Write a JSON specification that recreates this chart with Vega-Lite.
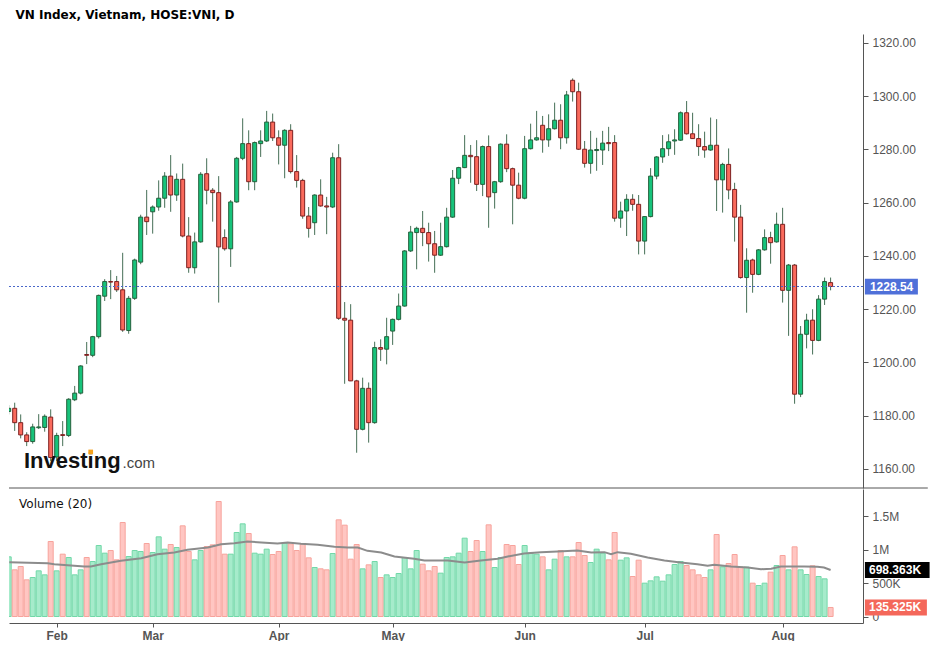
{
  "$schema": "https://vega.github.io/schema/vega-lite/v6.json",
  "background": "white",
  "padding": {"left": 8, "top": 9, "right": 0, "bottom": 0},
  "spacing": 0,
  "config": {
    "view": {"stroke": null},
    "font": "Liberation Sans",
    "scale": {"continuousPadding": 0},
    "axis": {"grid": false, "domainColor": "#555", "tickColor": "#555", "labelColor": "#555", "labelFont": "Liberation Sans", "labelFontSize": 12, "title": null}
  },
  "title": {"text": "VN Index, Vietnam, HOSE:VNI, D", "anchor": "start", "font": "DejaVu Sans", "fontSize": 12, "fontWeight": "bold", "color": "#000", "dx": 7, "offset": 12},
  "datasets": {
    "ohlc": [
      {"k": -8, "o": 1181.6, "h": 1184.0, "l": 1180.5, "c": 1182.8, "v": 895000},
      {"k": -7, "o": 1182.8, "h": 1184.9, "l": 1174.3, "c": 1177.4, "v": 700000},
      {"k": -6, "o": 1177.4, "h": 1180.5, "l": 1171.5, "c": 1172.8, "v": 750000},
      {"k": -5, "o": 1172.8, "h": 1173.8, "l": 1168.6, "c": 1170.3, "v": 550000},
      {"k": -4, "o": 1170.3, "h": 1177.0, "l": 1169.5, "c": 1175.8, "v": 585000},
      {"k": -3, "o": 1175.5, "h": 1180.6, "l": 1175.0, "c": 1175.8, "v": 685000},
      {"k": -2, "o": 1175.6, "h": 1180.5, "l": 1174.0, "c": 1179.8, "v": 625000},
      {"k": -1, "o": 1179.5, "h": 1182.4, "l": 1163.0, "c": 1164.3, "v": 1125000},
      {"k": 0, "o": 1164.5, "h": 1173.6, "l": 1163.0, "c": 1172.6, "v": 685000},
      {"k": 1, "o": 1172.9, "h": 1178.0, "l": 1168.6, "c": 1172.6, "v": 935000},
      {"k": 2, "o": 1172.6, "h": 1186.6, "l": 1172.0, "c": 1186.2, "v": 885000},
      {"k": 3, "o": 1186.0, "h": 1191.2, "l": 1185.5, "c": 1188.5, "v": 625000},
      {"k": 4, "o": 1188.5, "h": 1199.0, "l": 1188.0, "c": 1198.7, "v": 700000},
      {"k": 5, "o": 1203.0, "h": 1207.7, "l": 1199.4, "c": 1202.7, "v": 885000},
      {"k": 6, "o": 1202.7, "h": 1210.0, "l": 1202.0, "c": 1209.7, "v": 825000},
      {"k": 7, "o": 1209.7, "h": 1225.5, "l": 1209.0, "c": 1225.2, "v": 1065000},
      {"k": 8, "o": 1224.9, "h": 1231.3, "l": 1223.1, "c": 1230.4, "v": 950000},
      {"k": 9, "o": 1230.4, "h": 1234.7, "l": 1223.8, "c": 1230.2, "v": 990000},
      {"k": 10, "o": 1230.4, "h": 1232.5, "l": 1226.5, "c": 1227.3, "v": 850000},
      {"k": 11, "o": 1227.3, "h": 1241.2, "l": 1211.5, "c": 1212.2, "v": 1410000},
      {"k": 12, "o": 1212.0, "h": 1225.0, "l": 1210.8, "c": 1224.1, "v": 900000},
      {"k": 13, "o": 1224.1, "h": 1239.0, "l": 1223.5, "c": 1238.5, "v": 990000},
      {"k": 14, "o": 1237.7, "h": 1255.5, "l": 1236.9, "c": 1254.6, "v": 975000},
      {"k": 15, "o": 1254.6, "h": 1264.8, "l": 1247.9, "c": 1252.9, "v": 1095000},
      {"k": 16, "o": 1256.6, "h": 1259.0, "l": 1248.4, "c": 1258.4, "v": 960000},
      {"k": 17, "o": 1258.4, "h": 1268.4, "l": 1257.0, "c": 1261.7, "v": 1195000},
      {"k": 18, "o": 1261.7, "h": 1271.5, "l": 1258.1, "c": 1270.0, "v": 1010000},
      {"k": 19, "o": 1270.0, "h": 1277.9, "l": 1256.6, "c": 1262.9, "v": 1080000},
      {"k": 20, "o": 1262.9, "h": 1271.0, "l": 1260.7, "c": 1268.8, "v": 1035000},
      {"k": 21, "o": 1268.8, "h": 1274.7, "l": 1247.0, "c": 1247.5, "v": 1360000},
      {"k": 22, "o": 1247.5, "h": 1254.6, "l": 1233.7, "c": 1235.6, "v": 975000},
      {"k": 23, "o": 1235.6, "h": 1248.8, "l": 1233.4, "c": 1245.3, "v": 850000},
      {"k": 24, "o": 1245.3, "h": 1271.5, "l": 1245.0, "c": 1270.7, "v": 990000},
      {"k": 25, "o": 1270.9, "h": 1276.7, "l": 1259.4, "c": 1264.7, "v": 1050000},
      {"k": 26, "o": 1264.7, "h": 1265.5, "l": 1252.9, "c": 1263.8, "v": 1075000},
      {"k": 27, "o": 1263.8, "h": 1270.0, "l": 1222.5, "c": 1243.4, "v": 1725000},
      {"k": 28, "o": 1246.9, "h": 1250.0, "l": 1242.0, "c": 1242.7, "v": 935000},
      {"k": 29, "o": 1242.7, "h": 1261.0, "l": 1235.9, "c": 1260.3, "v": 935000},
      {"k": 30, "o": 1260.3, "h": 1277.2, "l": 1260.0, "c": 1276.7, "v": 1260000},
      {"k": 31, "o": 1276.7, "h": 1291.7, "l": 1276.0, "c": 1282.2, "v": 1390000},
      {"k": 32, "o": 1282.2, "h": 1287.2, "l": 1264.7, "c": 1267.9, "v": 1245000},
      {"k": 33, "o": 1267.9, "h": 1283.0, "l": 1264.7, "c": 1282.6, "v": 950000},
      {"k": 34, "o": 1282.2, "h": 1287.2, "l": 1277.2, "c": 1283.2, "v": 935000},
      {"k": 35, "o": 1283.2, "h": 1294.5, "l": 1282.8, "c": 1290.3, "v": 1010000},
      {"k": 36, "o": 1290.3, "h": 1293.5, "l": 1283.2, "c": 1284.4, "v": 930000},
      {"k": 37, "o": 1284.4, "h": 1287.2, "l": 1274.4, "c": 1281.6, "v": 975000},
      {"k": 38, "o": 1281.6, "h": 1287.6, "l": 1269.2, "c": 1287.2, "v": 1100000},
      {"k": 39, "o": 1287.2, "h": 1289.5, "l": 1271.0, "c": 1271.7, "v": 1090000},
      {"k": 40, "o": 1271.7, "h": 1277.9, "l": 1265.7, "c": 1268.4, "v": 990000},
      {"k": 41, "o": 1268.4, "h": 1269.0, "l": 1254.0, "c": 1255.0, "v": 1080000},
      {"k": 42, "o": 1255.0, "h": 1258.4, "l": 1246.9, "c": 1250.4, "v": 880000},
      {"k": 43, "o": 1252.5, "h": 1263.2, "l": 1247.9, "c": 1262.9, "v": 735000},
      {"k": 44, "o": 1262.9, "h": 1268.8, "l": 1258.5, "c": 1258.8, "v": 715000},
      {"k": 45, "o": 1258.8, "h": 1262.2, "l": 1248.2, "c": 1258.4, "v": 700000},
      {"k": 46, "o": 1258.4, "h": 1278.8, "l": 1258.0, "c": 1276.9, "v": 945000},
      {"k": 47, "o": 1276.9, "h": 1282.0, "l": 1216.0, "c": 1216.6, "v": 1450000},
      {"k": 48, "o": 1216.6, "h": 1222.7, "l": 1192.0, "c": 1215.9, "v": 1370000},
      {"k": 49, "o": 1215.9, "h": 1221.9, "l": 1193.0, "c": 1193.1, "v": 860000},
      {"k": 50, "o": 1193.1, "h": 1193.5, "l": 1166.1, "c": 1174.9, "v": 1080000},
      {"k": 51, "o": 1174.9, "h": 1194.3, "l": 1174.5, "c": 1190.3, "v": 715000},
      {"k": 52, "o": 1190.3, "h": 1192.5, "l": 1169.9, "c": 1177.4, "v": 775000},
      {"k": 53, "o": 1177.4, "h": 1207.8, "l": 1177.0, "c": 1205.6, "v": 825000},
      {"k": 54, "o": 1205.6, "h": 1208.7, "l": 1200.6, "c": 1205.0, "v": 585000},
      {"k": 55, "o": 1205.0, "h": 1216.8, "l": 1199.3, "c": 1209.7, "v": 625000},
      {"k": 56, "o": 1211.8, "h": 1216.5, "l": 1206.6, "c": 1216.2, "v": 585000},
      {"k": 57, "o": 1216.2, "h": 1225.9, "l": 1215.8, "c": 1221.2, "v": 645000},
      {"k": 58, "o": 1221.2, "h": 1242.2, "l": 1221.0, "c": 1241.9, "v": 885000},
      {"k": 59, "o": 1241.9, "h": 1251.3, "l": 1241.5, "c": 1249.0, "v": 715000},
      {"k": 60, "o": 1248.8, "h": 1251.0, "l": 1235.0, "c": 1250.4, "v": 990000},
      {"k": 61, "o": 1250.4, "h": 1256.9, "l": 1243.7, "c": 1248.8, "v": 785000},
      {"k": 62, "o": 1248.8, "h": 1252.5, "l": 1237.9, "c": 1244.6, "v": 685000},
      {"k": 63, "o": 1244.6, "h": 1249.4, "l": 1233.7, "c": 1240.3, "v": 750000},
      {"k": 64, "o": 1240.3, "h": 1252.5, "l": 1240.0, "c": 1243.5, "v": 650000},
      {"k": 65, "o": 1243.5, "h": 1258.1, "l": 1243.2, "c": 1254.6, "v": 885000},
      {"k": 66, "o": 1254.6, "h": 1272.3, "l": 1254.3, "c": 1269.2, "v": 895000},
      {"k": 67, "o": 1269.2, "h": 1273.5, "l": 1267.0, "c": 1273.2, "v": 950000},
      {"k": 68, "o": 1273.2, "h": 1285.4, "l": 1273.0, "c": 1277.8, "v": 1175000},
      {"k": 69, "o": 1277.8, "h": 1281.7, "l": 1267.5, "c": 1277.3, "v": 975000},
      {"k": 70, "o": 1277.3, "h": 1283.5, "l": 1264.4, "c": 1266.9, "v": 1140000},
      {"k": 71, "o": 1266.9, "h": 1281.5, "l": 1262.5, "c": 1281.1, "v": 975000},
      {"k": 72, "o": 1281.1, "h": 1285.3, "l": 1250.6, "c": 1262.2, "v": 1375000},
      {"k": 73, "o": 1263.8, "h": 1268.2, "l": 1257.8, "c": 1267.9, "v": 735000},
      {"k": 74, "o": 1267.9, "h": 1282.3, "l": 1267.5, "c": 1282.0, "v": 885000},
      {"k": 75, "o": 1282.0, "h": 1285.7, "l": 1271.5, "c": 1272.8, "v": 1080000},
      {"k": 76, "o": 1272.8, "h": 1273.2, "l": 1251.9, "c": 1266.6, "v": 1065000},
      {"k": 77, "o": 1266.6, "h": 1271.3, "l": 1261.3, "c": 1261.7, "v": 780000},
      {"k": 78, "o": 1261.7, "h": 1285.1, "l": 1261.3, "c": 1280.3, "v": 1065000},
      {"k": 79, "o": 1280.3, "h": 1289.7, "l": 1280.0, "c": 1283.6, "v": 950000},
      {"k": 80, "o": 1283.6, "h": 1294.5, "l": 1283.3, "c": 1284.4, "v": 935000},
      {"k": 81, "o": 1289.1, "h": 1292.6, "l": 1278.8, "c": 1283.6, "v": 895000},
      {"k": 82, "o": 1283.6, "h": 1293.2, "l": 1281.0, "c": 1287.8, "v": 700000},
      {"k": 83, "o": 1287.8, "h": 1297.6, "l": 1287.5, "c": 1291.0, "v": 860000},
      {"k": 84, "o": 1291.0, "h": 1297.0, "l": 1280.1, "c": 1284.4, "v": 990000},
      {"k": 85, "o": 1284.4, "h": 1302.0, "l": 1282.2, "c": 1300.5, "v": 895000},
      {"k": 86, "o": 1306.0, "h": 1306.7, "l": 1298.0, "c": 1301.7, "v": 895000},
      {"k": 87, "o": 1301.7, "h": 1305.1, "l": 1279.8, "c": 1280.1, "v": 1110000},
      {"k": 88, "o": 1280.1, "h": 1283.2, "l": 1273.2, "c": 1274.8, "v": 915000},
      {"k": 89, "o": 1274.8, "h": 1287.0, "l": 1270.9, "c": 1279.8, "v": 810000},
      {"k": 90, "o": 1279.6, "h": 1284.4, "l": 1272.0, "c": 1280.0, "v": 1010000},
      {"k": 91, "o": 1279.8, "h": 1287.0, "l": 1274.2, "c": 1282.4, "v": 950000},
      {"k": 92, "o": 1282.6, "h": 1288.5, "l": 1279.4, "c": 1282.2, "v": 850000},
      {"k": 93, "o": 1282.6, "h": 1285.4, "l": 1252.9, "c": 1254.2, "v": 1260000},
      {"k": 94, "o": 1254.2, "h": 1260.4, "l": 1250.6, "c": 1256.9, "v": 845000},
      {"k": 95, "o": 1256.9, "h": 1263.2, "l": 1247.5, "c": 1261.3, "v": 880000},
      {"k": 96, "o": 1261.3, "h": 1263.2, "l": 1257.0, "c": 1259.4, "v": 600000},
      {"k": 97, "o": 1259.4, "h": 1262.9, "l": 1240.6, "c": 1245.6, "v": 845000},
      {"k": 98, "o": 1245.6, "h": 1255.0, "l": 1240.6, "c": 1254.8, "v": 500000},
      {"k": 99, "o": 1254.8, "h": 1273.0, "l": 1254.5, "c": 1270.0, "v": 535000},
      {"k": 100, "o": 1270.0, "h": 1277.5, "l": 1268.8, "c": 1277.2, "v": 595000},
      {"k": 101, "o": 1277.2, "h": 1285.4, "l": 1275.0, "c": 1280.3, "v": 530000},
      {"k": 102, "o": 1280.3, "h": 1285.7, "l": 1277.6, "c": 1282.9, "v": 625000},
      {"k": 103, "o": 1283.2, "h": 1287.6, "l": 1278.0, "c": 1283.6, "v": 780000},
      {"k": 104, "o": 1283.5, "h": 1294.3, "l": 1283.2, "c": 1293.8, "v": 825000},
      {"k": 105, "o": 1293.8, "h": 1298.2, "l": 1285.6, "c": 1285.9, "v": 765000},
      {"k": 106, "o": 1285.9, "h": 1293.8, "l": 1284.0, "c": 1284.1, "v": 700000},
      {"k": 107, "o": 1284.1, "h": 1289.5, "l": 1277.6, "c": 1281.1, "v": 625000},
      {"k": 108, "o": 1281.1, "h": 1286.7, "l": 1276.9, "c": 1279.8, "v": 585000},
      {"k": 109, "o": 1279.8, "h": 1292.0, "l": 1279.5, "c": 1281.6, "v": 700000},
      {"k": 110, "o": 1281.6, "h": 1291.4, "l": 1256.9, "c": 1268.6, "v": 1230000},
      {"k": 111, "o": 1268.6, "h": 1275.0, "l": 1256.3, "c": 1274.4, "v": 745000},
      {"k": 112, "o": 1274.4, "h": 1280.4, "l": 1261.3, "c": 1264.8, "v": 795000},
      {"k": 113, "o": 1265.0, "h": 1267.5, "l": 1245.4, "c": 1254.6, "v": 930000},
      {"k": 114, "o": 1254.6, "h": 1259.2, "l": 1231.5, "c": 1231.9, "v": 740000},
      {"k": 115, "o": 1231.9, "h": 1242.9, "l": 1218.7, "c": 1238.4, "v": 740000},
      {"k": 116, "o": 1238.5, "h": 1239.0, "l": 1226.2, "c": 1233.1, "v": 500000},
      {"k": 117, "o": 1233.1, "h": 1242.6, "l": 1232.8, "c": 1242.3, "v": 465000},
      {"k": 118, "o": 1242.3, "h": 1250.0, "l": 1242.0, "c": 1246.9, "v": 500000},
      {"k": 119, "o": 1246.9, "h": 1249.1, "l": 1237.1, "c": 1245.0, "v": 665000},
      {"k": 120, "o": 1245.3, "h": 1256.3, "l": 1245.0, "c": 1251.9, "v": 765000},
      {"k": 121, "o": 1251.9, "h": 1258.1, "l": 1222.5, "c": 1227.1, "v": 915000},
      {"k": 122, "o": 1227.1, "h": 1237.0, "l": 1210.0, "c": 1236.6, "v": 700000},
      {"k": 123, "o": 1236.6, "h": 1237.0, "l": 1184.5, "c": 1188.1, "v": 1045000},
      {"k": 124, "o": 1188.1, "h": 1213.7, "l": 1187.0, "c": 1210.6, "v": 700000},
      {"k": 125, "o": 1210.6, "h": 1218.3, "l": 1205.3, "c": 1215.9, "v": 630000},
      {"k": 126, "o": 1215.9, "h": 1220.0, "l": 1203.0, "c": 1208.3, "v": 760000},
      {"k": 127, "o": 1208.3, "h": 1225.3, "l": 1208.0, "c": 1223.8, "v": 600000},
      {"k": 128, "o": 1223.8, "h": 1231.9, "l": 1221.6, "c": 1230.4, "v": 565000},
      {"k": 129, "o": 1230.0, "h": 1231.9, "l": 1227.1, "c": 1228.54, "v": 135325}
    ],
    "ma": [
      {"k": -7.9, "ma": 815000}, {"k": -1.5, "ma": 800000}, {"k": -0.4, "ma": 785000}, {"k": 4.6, "ma": 750000},
      {"k": 5.7, "ma": 750000}, {"k": 7.4, "ma": 785000}, {"k": 10.7, "ma": 835000}, {"k": 14.1, "ma": 875000},
      {"k": 16.8, "ma": 935000}, {"k": 19.6, "ma": 960000}, {"k": 21.8, "ma": 1000000}, {"k": 25.2, "ma": 1035000},
      {"k": 27.4, "ma": 1085000}, {"k": 29.6, "ma": 1100000}, {"k": 31.8, "ma": 1125000}, {"k": 34.1, "ma": 1110000},
      {"k": 36.8, "ma": 1095000}, {"k": 38.5, "ma": 1110000}, {"k": 40.7, "ma": 1090000}, {"k": 43.5, "ma": 1075000},
      {"k": 46.3, "ma": 1045000}, {"k": 48.5, "ma": 1035000}, {"k": 50.2, "ma": 1035000}, {"k": 51.8, "ma": 985000},
      {"k": 54.1, "ma": 960000}, {"k": 56.3, "ma": 900000}, {"k": 59.6, "ma": 865000}, {"k": 61.3, "ma": 840000},
      {"k": 64.1, "ma": 840000}, {"k": 65.2, "ma": 840000}, {"k": 68, "ma": 810000}, {"k": 70.7, "ma": 840000},
      {"k": 73.5, "ma": 865000}, {"k": 75.2, "ma": 900000}, {"k": 77.9, "ma": 945000}, {"k": 80.7, "ma": 965000},
      {"k": 83.5, "ma": 975000}, {"k": 86.8, "ma": 990000}, {"k": 89.1, "ma": 960000}, {"k": 91.3, "ma": 965000},
      {"k": 92.4, "ma": 935000}, {"k": 93.5, "ma": 965000}, {"k": 95.7, "ma": 940000}, {"k": 98.5, "ma": 885000},
      {"k": 101.3, "ma": 840000}, {"k": 104, "ma": 810000}, {"k": 106.8, "ma": 785000}, {"k": 108.5, "ma": 760000},
      {"k": 109.6, "ma": 775000}, {"k": 112.4, "ma": 750000}, {"k": 115.2, "ma": 735000}, {"k": 117.4, "ma": 710000},
      {"k": 119.1, "ma": 715000}, {"k": 120.7, "ma": 750000}, {"k": 122.4, "ma": 750000}, {"k": 124.6, "ma": 750000},
      {"k": 126.8, "ma": 745000}, {"k": 127.9, "ma": 735000}, {"k": 129, "ma": 698363}
    ]
  },
  "vconcat": [
    {
      "width": 854,
      "height": 454,
      "layer": [
        {
          "data": {"name": "ohlc"},
          "mark": {"type": "rule", "color": "#456f56", "strokeWidth": 1, "clip": true},
          "encoding": {
            "x": {"field": "k", "type": "quantitative", "scale": {"domain": [-7.95, 134.4], "nice": false, "zero": false, "padding": 0}, "axis": null},
            "y": {"field": "l", "type": "quantitative", "scale": {"domain": [1152.86, 1323.38], "nice": false, "zero": false},
              "axis": {"orient": "right", "values": [1160, 1180, 1200, 1220, 1240, 1260, 1280, 1300, 1320], "format": ".2f", "tickSize": 5, "labelPadding": 4, "domainColor": "#555"}},
            "y2": {"field": "h"}
          }
        },
        {
          "data": {"name": "ohlc"},
          "mark": {"type": "bar", "size": 4, "strokeWidth": 1, "clip": true},
          "encoding": {
            "x": {"field": "k", "type": "quantitative", "scale": {"domain": [-7.95, 134.4], "nice": false, "zero": false, "padding": 0}, "axis": null},
            "y": {"field": "o", "type": "quantitative", "scale": {"domain": [1152.86, 1323.38], "nice": false, "zero": false}},
            "y2": {"field": "c"},
            "fill": {"condition": {"test": "datum.c >= datum.o", "value": "#17c37b"}, "value": "#fa6a5c"},
            "stroke": {"condition": {"test": "datum.c >= datum.o", "value": "#25603c"}, "value": "#7d2020"}
          }
        },
        {
          "data": {"values": [{}]},
          "mark": {"type": "rule", "color": "#4a67c9", "strokeDash": [2, 2], "strokeWidth": 1},
          "encoding": {
            "x": {"datum": -7.95, "type": "quantitative", "scale": {"domain": [-7.95, 134.4], "nice": false, "zero": false, "padding": 0}},
            "x2": {"datum": 134.4},
            "y": {"datum": 1228.54, "type": "quantitative", "scale": {"domain": [1152.86, 1323.38], "nice": false, "zero": false}}
          }
        },
        {
          "data": {"values": [{}]},
          "mark": {"type": "rule", "color": "#555", "strokeWidth": 1, "clip": false},
          "encoding": {
            "x": {"datum": -7.95, "type": "quantitative", "scale": {"domain": [-7.95, 134.4], "nice": false, "zero": false, "padding": 0}},
            "x2": {"datum": 145.2},
            "y": {"datum": 1152.86, "type": "quantitative", "scale": {"domain": [1152.86, 1323.38], "nice": false, "zero": false}}
          }
        },
        {
          "data": {"values": [{}]},
          "mark": {"type": "rect", "color": "#4f70d9", "clip": false},
          "encoding": {
            "x": {"datum": 134.72, "type": "quantitative", "scale": {"domain": [-7.95, 134.4], "nice": false, "zero": false, "padding": 0}},
            "x2": {"datum": 143.55},
            "y": {"datum": 1231.5, "type": "quantitative", "scale": {"domain": [1152.86, 1323.38], "nice": false, "zero": false}},
            "y2": {"datum": 1225.5}
          }
        },
        {
          "data": {"values": [{}]},
          "mark": {"type": "text", "color": "white", "font": "Liberation Sans", "fontSize": 12, "fontWeight": "bold", "align": "left", "baseline": "middle", "clip": false},
          "encoding": {
            "x": {"datum": 135.55, "type": "quantitative", "scale": {"domain": [-7.95, 134.4], "nice": false, "zero": false, "padding": 0}},
            "y": {"datum": 1228.4, "type": "quantitative", "scale": {"domain": [1152.86, 1323.38], "nice": false, "zero": false}},
            "text": {"value": "1228.54"}
          }
        },
        {
          "data": {"values": [{}]},
          "mark": {"type": "text", "color": "#111", "font": "Liberation Sans", "fontSize": 22, "fontWeight": "bold", "align": "left", "baseline": "alphabetic"},
          "encoding": {
            "x": {"datum": -5.45, "type": "quantitative", "scale": {"domain": [-7.95, 134.4], "nice": false, "zero": false, "padding": 0}},
            "y": {"datum": 1160.4, "type": "quantitative", "scale": {"domain": [1152.86, 1323.38], "nice": false, "zero": false}},
            "text": {"value": "Investing"}
          }
        },
        {
          "data": {"values": [{}]},
          "mark": {"type": "text", "color": "#444", "font": "Liberation Sans", "fontSize": 15, "align": "left", "baseline": "alphabetic"},
          "encoding": {
            "x": {"datum": 10.97, "type": "quantitative", "scale": {"domain": [-7.95, 134.4], "nice": false, "zero": false, "padding": 0}},
            "y": {"datum": 1160.4, "type": "quantitative", "scale": {"domain": [1152.86, 1323.38], "nice": false, "zero": false}},
            "text": {"value": ".com"}
          }
        },
        {
          "data": {"values": [{}]},
          "mark": {"type": "square", "color": "#f5a11c", "size": 22, "opacity": 1, "filled": true},
          "encoding": {
            "x": {"datum": 5.67, "type": "quantitative", "scale": {"domain": [-7.95, 134.4], "nice": false, "zero": false, "padding": 0}},
            "y": {"datum": 1166.4, "type": "quantitative", "scale": {"domain": [1152.86, 1323.38], "nice": false, "zero": false}}
          }
        }
      ]
    },
    {
      "width": 854,
      "height": 134,
      "layer": [
        {
          "data": {"name": "ohlc"},
          "mark": {"type": "bar", "size": 5, "strokeWidth": 1, "clip": true},
          "encoding": {
            "x": {"field": "k", "type": "quantitative", "scale": {"domain": [-7.95, 134.4], "nice": false, "zero": false, "padding": 0},
              "axis": {"values": [0, 16, 37, 56, 78, 98, 121], "labelExpr": "datum.value == 0 ? 'Feb' : datum.value == 16 ? 'Mar' : datum.value == 37 ? 'Apr' : datum.value == 56 ? 'May' : datum.value == 78 ? 'Jun' : datum.value == 98 ? 'Jul' : 'Aug'", "tickSize": 4, "labelPadding": 3, "labelFontWeight": "bold", "labelColor": "#555", "labelFontSize": 12}},
            "y": {"field": "v", "type": "quantitative", "scale": {"domain": [-97500, 1912500], "nice": false, "zero": false},
              "axis": {"orient": "right", "values": [0, 500000, 1000000, 1500000], "labelExpr": "datum.value == 0 ? '0' : datum.value >= 1000000 ? format(datum.value / 1000000, '~g') + 'M' : format(datum.value / 1000, '~g') + 'K'", "tickSize": 5, "labelPadding": 4}},
            "y2": {"datum": 0},
            "fill": {"condition": {"test": "datum.c >= datum.o", "value": "#a6ebcb"}, "value": "#ffc6c2"},
            "stroke": {"condition": {"test": "datum.c >= datum.o", "value": "#72d8a8"}, "value": "#f7a39c"}
          }
        },
        {
          "data": {"name": "ma"},
          "mark": {"type": "line", "color": "#8c8c8c", "strokeWidth": 2, "clip": true},
          "encoding": {
            "x": {"field": "k", "type": "quantitative", "scale": {"domain": [-7.95, 134.4], "nice": false, "zero": false, "padding": 0}},
            "y": {"field": "ma", "type": "quantitative", "scale": {"domain": [-97500, 1912500], "nice": false, "zero": false}}
          }
        },
        {
          "data": {"values": [{}]},
          "mark": {"type": "text", "color": "#111", "font": "DejaVu Sans", "fontSize": 12, "align": "left", "baseline": "middle"},
          "encoding": {
            "x": {"datum": -6.28, "type": "quantitative", "scale": {"domain": [-7.95, 134.4], "nice": false, "zero": false, "padding": 0}},
            "y": {"datum": 1687500, "type": "quantitative", "scale": {"domain": [-97500, 1912500], "nice": false, "zero": false}},
            "text": {"value": "Volume (20)"}
          }
        },
        {
          "data": {"values": [{}]},
          "mark": {"type": "rect", "color": "#000", "clip": false},
          "encoding": {
            "x": {"datum": 134.72, "type": "quantitative", "scale": {"domain": [-7.95, 134.4], "nice": false, "zero": false, "padding": 0}},
            "x2": {"datum": 145.5},
            "y": {"datum": 818363, "type": "quantitative", "scale": {"domain": [-97500, 1912500], "nice": false, "zero": false}},
            "y2": {"datum": 578363}
          }
        },
        {
          "data": {"values": [{}]},
          "mark": {"type": "text", "color": "white", "font": "Liberation Sans", "fontSize": 12, "fontWeight": "bold", "align": "left", "baseline": "middle", "clip": false},
          "encoding": {
            "x": {"datum": 135.4, "type": "quantitative", "scale": {"domain": [-7.95, 134.4], "nice": false, "zero": false, "padding": 0}},
            "y": {"datum": 698363, "type": "quantitative", "scale": {"domain": [-97500, 1912500], "nice": false, "zero": false}},
            "text": {"value": "698.363K"}
          }
        },
        {
          "data": {"values": [{}]},
          "mark": {"type": "rect", "color": "#f4675a", "clip": false},
          "encoding": {
            "x": {"datum": 134.72, "type": "quantitative", "scale": {"domain": [-7.95, 134.4], "nice": false, "zero": false, "padding": 0}},
            "x2": {"datum": 145.05},
            "y": {"datum": 255325, "type": "quantitative", "scale": {"domain": [-97500, 1912500], "nice": false, "zero": false}},
            "y2": {"datum": 15325}
          }
        },
        {
          "data": {"values": [{}]},
          "mark": {"type": "text", "color": "white", "font": "Liberation Sans", "fontSize": 12, "fontWeight": "bold", "align": "left", "baseline": "middle", "clip": false},
          "encoding": {
            "x": {"datum": 135.4, "type": "quantitative", "scale": {"domain": [-7.95, 134.4], "nice": false, "zero": false, "padding": 0}},
            "y": {"datum": 135325, "type": "quantitative", "scale": {"domain": [-97500, 1912500], "nice": false, "zero": false}},
            "text": {"value": "135.325K"}
          }
        }
      ]
    }
  ]
}
